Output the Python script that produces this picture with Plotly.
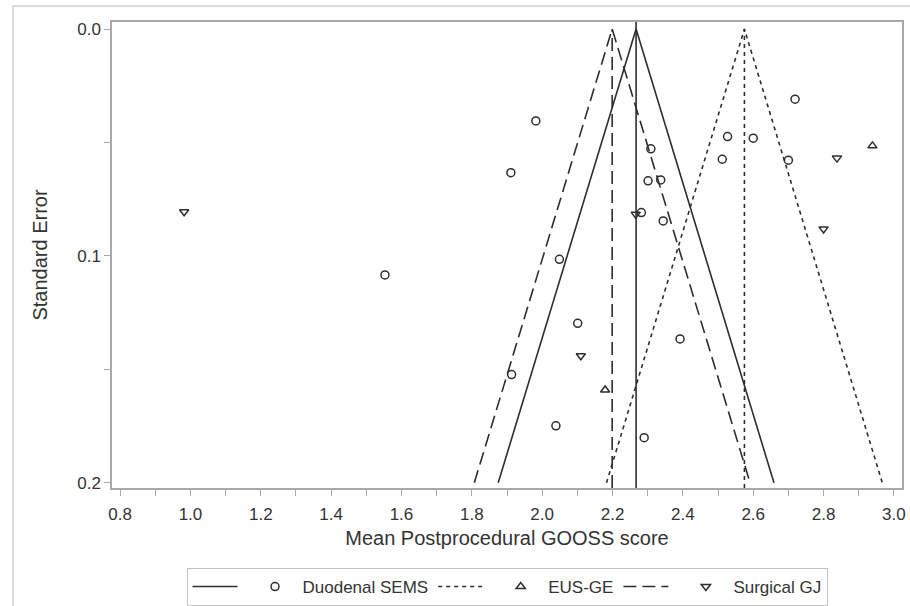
import plotly.graph_objects as go

# Study-level mean postprocedural GOOSS scores and their standard errors
sems_score = [2.719, 1.982, 2.527, 2.600, 2.309, 2.512, 2.700, 1.911, 2.301, 2.337,
              2.282, 2.344, 2.049, 1.553, 2.101, 2.392, 1.913, 2.039, 2.290]
sems_se = [0.0309, 0.0405, 0.0474, 0.0481, 0.0528, 0.0574, 0.0578, 0.0633, 0.0669, 0.0665,
           0.0809, 0.0846, 0.1015, 0.1084, 0.1297, 0.1366, 0.1523, 0.1749, 0.1801]

eus_score = [2.939, 2.179]
eus_se = [0.0515, 0.1591]

sgj_score = [0.982, 2.838, 2.266, 2.800, 2.110]
sgj_se = [0.0805, 0.0569, 0.0816, 0.0881, 0.1440]

groups = ["Duodenal SEMS", "EUS-GE", "Surgical GJ"]
pooled_mean = [2.267, 2.575, 2.199]
# pseudo 95% limits at the largest standard error shown
funnel_se = 0.2
funnel_lower = [1.875, 2.183, 1.807]
funnel_upper = [2.659, 2.967, 2.591]

x_ticks = [0.8, 1.0, 1.2, 1.4, 1.6, 1.8, 2.0, 2.2, 2.4, 2.6, 2.8, 3.0]
y_ticks = [0.0, 0.1, 0.2]

X_RANGE = [0.777, 3.023]
Y_RANGE = [0.2023, -0.0031]

INK = "#2e2e2e"
FRAME = "#a8a8a8"
FONT = "Liberation Sans, Arial, sans-serif"
dashes = ["solid", "4px,4px", "13px,6px"]
symbols = ["circle-open", "triangle-up-open", "triangle-down-open"]
scores = [sems_score, eus_score, sgj_score]
ses = [sems_se, eus_se, sgj_se]

fig = go.Figure()
for i, g in enumerate(groups):
    # funnel: lower limit -> apex -> upper limit, then the pooled-mean line
    fx = [funnel_lower[i], pooled_mean[i], funnel_upper[i], None, pooled_mean[i], pooled_mean[i]]
    fy = [funnel_se, 0.0, funnel_se, None, Y_RANGE[0], Y_RANGE[1] if i == 0 else 0.0]
    fig.add_trace(go.Scatter(
        x=fx, y=fy, mode="lines", name="",
        line=dict(color=INK, width=1.6, dash=dashes[i]),
        hoverinfo="skip", cliponaxis=False,
    ))
    fig.add_trace(go.Scatter(
        x=scores[i], y=ses[i], mode="markers", name=g,
        marker=dict(symbol=symbols[i], size=8, color=INK, line=dict(width=1.5, color=INK)),
    ))

axis_common = dict(
    showline=True, linecolor=FRAME, linewidth=1.5, mirror=True,
    showgrid=False, zeroline=False,
    ticks="outside", ticklen=6, tickwidth=1.2, tickcolor=FRAME,
    tickfont=dict(family=FONT, size=17, color="#333333"),
    title_font=dict(family=FONT, size=20, color="#333333"),
)

fig.update_layout(
    width=910, height=606,
    margin=dict(l=112, r=8, t=22, b=118, autoexpand=False),
    paper_bgcolor="white", plot_bgcolor="white",
    font=dict(family=FONT, color="#333333"),
    xaxis=dict(
        range=X_RANGE, tickvals=x_ticks, ticktext=[f"{v:.1f}" for v in x_ticks],
        ticklabelstandoff=4,
        title=dict(text="Mean Postprocedural GOOSS score", standoff=8),
        minor=dict(dtick=0.1, tick0=0.8, ticks="outside", ticklen=6, tickcolor=FRAME, tickwidth=1.2),
        **axis_common,
    ),
    yaxis=dict(
        range=Y_RANGE, tickvals=y_ticks, ticktext=[f"{v:.1f}" for v in y_ticks],
        title=dict(text="Standard Error", standoff=24),
        minor=dict(dtick=0.05, tick0=0.0, ticks="outside", ticklen=6, tickcolor=FRAME, tickwidth=1.2),
        **axis_common,
    ),
    legend=dict(
        orientation="h", x=0.5, xanchor="center", y=-0.1717, yanchor="top",
        bordercolor="#c4c4c4", borderwidth=1,
        font=dict(family=FONT, size=17, color="#333333"),
        itemwidth=45, tracegroupgap=0,
    ),
    showlegend=True,
    shapes=[
        # light outer frame around the whole graphic
        dict(type="rect", xref="paper", yref="paper",
             x0=-0.1253, x1=1.05, y0=-0.35, y1=1.0343,
             line=dict(color="#dcdcdc", width=2), layer="below"),
    ],
)

fig.write_html("out.html")
